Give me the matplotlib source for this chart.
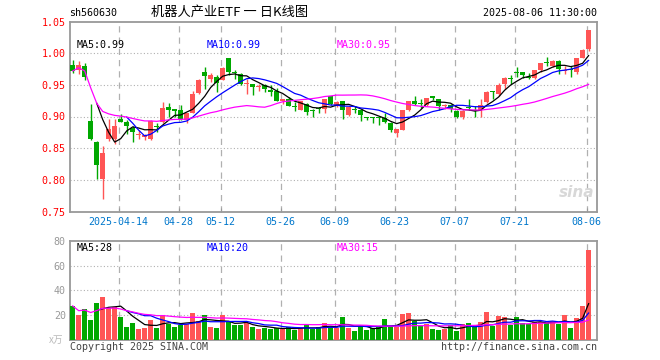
import numpy as np
import pandas as pd
import matplotlib
matplotlib.use("Agg")
import matplotlib.pyplot as plt

# ── data ────────────────────────────────────────────────────────────────────
holidays = ['2025-04-04', '2025-05-01', '2025-05-02', '2025-05-05', '2025-06-02']
dates = [d for d in pd.bdate_range('2025-04-01', '2025-08-06').strftime('%Y-%m-%d')
         if d not in holidays]

opens = [0.982, 0.973, 0.979, 0.893, 0.860, 0.801, 0.864, 0.864, 0.896, 0.892,
         0.882, 0.871, 0.868, 0.864, 0.884, 0.891, 0.915, 0.912, 0.910, 0.894,
         0.906, 0.937, 0.971, 0.960, 0.963, 0.958, 0.992, 0.971, 0.967, 0.951,
         0.952, 0.947, 0.950, 0.942, 0.940, 0.924, 0.928, 0.916, 0.911, 0.920,
         0.909, 0.913, 0.912, 0.933, 0.917, 0.924, 0.903, 0.911, 0.910, 0.899,
         0.898, 0.898, 0.898, 0.889, 0.874, 0.879, 0.911, 0.925, 0.920, 0.918,
         0.931, 0.927, 0.916, 0.918, 0.909, 0.900, 0.915, 0.909, 0.910, 0.923,
         0.940, 0.935, 0.951, 0.960, 0.970, 0.971, 0.962, 0.961, 0.973, 0.985,
         0.979, 0.988, 0.972, 0.975, 0.971, 0.993, 1.007]
highs = [0.989, 0.988, 0.985, 0.919, 0.861, 0.853, 0.896, 0.896, 0.904, 0.894,
         0.885, 0.879, 0.873, 0.894, 0.889, 0.923, 0.921, 0.912, 0.918, 0.906,
         0.941, 0.959, 0.978, 0.969, 0.965, 0.978, 0.992, 0.974, 0.968, 0.959,
         0.952, 0.952, 0.952, 0.949, 0.945, 0.928, 0.931, 0.923, 0.925, 0.921,
         0.912, 0.915, 0.927, 0.933, 0.924, 0.924, 0.916, 0.916, 0.910, 0.899,
         0.900, 0.900, 0.906, 0.891, 0.881, 0.911, 0.925, 0.932, 0.927, 0.930,
         0.931, 0.928, 0.920, 0.920, 0.910, 0.911, 0.927, 0.916, 0.927, 0.940,
         0.940, 0.953, 0.962, 0.966, 0.978, 0.971, 0.969, 0.974, 0.985, 0.994,
         0.989, 0.989, 0.980, 0.980, 0.993, 1.006, 1.036]
lows = [0.969, 0.967, 0.957, 0.863, 0.801, 0.770, 0.862, 0.857, 0.892, 0.873,
        0.859, 0.865, 0.863, 0.863, 0.876, 0.890, 0.899, 0.900, 0.894, 0.890,
        0.906, 0.936, 0.944, 0.954, 0.939, 0.957, 0.965, 0.959, 0.949, 0.936,
        0.934, 0.941, 0.939, 0.933, 0.924, 0.920, 0.916, 0.909, 0.910, 0.902,
        0.899, 0.906, 0.906, 0.918, 0.915, 0.896, 0.901, 0.906, 0.893, 0.894,
        0.889, 0.886, 0.890, 0.875, 0.868, 0.878, 0.909, 0.918, 0.913, 0.917,
        0.926, 0.910, 0.912, 0.907, 0.898, 0.896, 0.911, 0.899, 0.899, 0.921,
        0.927, 0.933, 0.943, 0.952, 0.962, 0.961, 0.959, 0.960, 0.971, 0.980,
        0.978, 0.967, 0.967, 0.963, 0.967, 0.992, 1.004]
closes = [0.972, 0.982, 0.962, 0.865, 0.824, 0.843, 0.881, 0.885, 0.892, 0.885,
          0.875, 0.872, 0.871, 0.893, 0.883, 0.913, 0.911, 0.909, 0.896, 0.906,
          0.935, 0.958, 0.964, 0.966, 0.953, 0.977, 0.971, 0.969, 0.952, 0.952,
          0.947, 0.948, 0.944, 0.939, 0.924, 0.927, 0.916, 0.915, 0.925, 0.907,
          0.908, 0.912, 0.927, 0.920, 0.923, 0.911, 0.915, 0.910, 0.902, 0.898,
          0.897, 0.897, 0.892, 0.878, 0.880, 0.910, 0.924, 0.919, 0.919, 0.929,
          0.930, 0.917, 0.917, 0.912, 0.900, 0.909, 0.914, 0.908, 0.918, 0.939,
          0.939, 0.950, 0.961, 0.959, 0.969, 0.966, 0.961, 0.973, 0.984, 0.984,
          0.988, 0.975, 0.973, 0.974, 0.993, 1.005, 1.036]
volumes = [27.3, 19.5, 24.9, 15.9, 30.0, 34.6, 25.4, 26.8, 18.6, 10.5,
           13.2, 8.6, 9.7, 15.9, 9.7, 20.0, 12.4, 10.5, 11.9, 12.4,
           21.6, 15.4, 20.0, 10.5, 9.7, 20.0, 14.0, 11.4, 11.4, 13.2,
           10.5, 8.9, 9.0, 8.4, 9.7, 8.6, 10.0, 7.6, 9.7, 11.4,
           8.6, 10.0, 13.2, 10.5, 9.3, 18.4, 9.2, 7.0, 10.8, 7.8,
           9.5, 10.0, 16.5, 10.8, 10.5, 20.5, 21.4, 15.0, 11.0, 12.4,
           8.4, 7.6, 8.4, 11.9, 7.3, 12.4, 13.8, 10.5, 14.0, 22.4,
           11.0, 18.9, 18.1, 11.9, 18.4, 13.2, 12.4, 14.0, 14.0, 13.8,
           15.0, 12.7, 19.7, 9.2, 17.3, 27.0, 72.4]

tick_dates = ['2025-04-14', '2025-04-28', '2025-05-12', '2025-05-26', '2025-06-09',
              '2025-06-23', '2025-07-07', '2025-07-21', '2025-08-06']
tick_labels = ['2025-04-14', '04-28', '05-12', '05-26', '06-09',
               '06-23', '07-07', '07-21', '08-06']
price_ticks = [0.75, 0.80, 0.85, 0.90, 0.95, 1.00, 1.05]
vol_ticks = [20, 40, 60, 80]

RED = '#ff5555'
GREEN = '#00a800'
GRID = '#b0b0b0'
FRAME = '#999999'
MONO = 'DejaVu Sans Mono'

W, H = 660, 360


def px(x, y):
    """pixel -> figure fraction"""
    return x / W, 1 - y / H


o = np.array(opens); h = np.array(highs); l = np.array(lows); c = np.array(closes)
v = np.array(volumes)
x = np.arange(len(dates))
colors = np.where(c > o, RED, GREEN)

cs = pd.Series(c)
ma5, ma10, ma30 = cs.rolling(5).mean(), cs.rolling(10).mean(), cs.rolling(30, min_periods=1).mean()
vs = pd.Series(v)
vma5, vma10, vma30 = vs.rolling(5).mean(), vs.rolling(10).mean(), vs.rolling(30, min_periods=1).mean()

tick_pos = [dates.index(d) - 0.35 for d in tick_dates]

fig = plt.figure(figsize=(6.6, 3.6), dpi=100)
fig.patch.set_facecolor('white')

# ── price panel ──────────────────────────────────────────────────────────────
ax = fig.add_axes([70 / W, 1 - 211.5 / H, 527 / W, 190 / H])
ax.vlines(x, l, h, color=colors, lw=1.0, zorder=3)
ax.bar(x, np.maximum(np.abs(c - o), 0.0017), bottom=np.minimum(o, c), width=0.8,
       color=colors, lw=0, zorder=3)
ax.plot(x, ma5, color='black', lw=0.9, zorder=4)
ax.plot(x, ma10, color='#0000ff', lw=0.9, zorder=4)
ax.plot(x, ma30, color='#ff00ff', lw=0.9, zorder=4)

ax.set_xlim(-0.45, 87.4)
ax.set_ylim(0.75, 1.05)
for yv in price_ticks[1:-1]:
    ax.axhline(yv, color=GRID, lw=0.8, ls=(0, (1, 2)), zorder=1)
for tp in tick_pos:
    ax.axvline(tp, color=GRID, lw=0.9, ls=(0, (5, 4)), zorder=1)
ax.set_yticks(price_ticks)
ax.set_yticklabels([f'{t:.2f}' for t in price_ticks], color='red',
                   fontsize=7.2, family=MONO)
ax.set_xticks(tick_pos)
ax.set_xticklabels(tick_labels, color='#0077cc', fontsize=7.2, family=MONO)
ax.tick_params(axis='y', length=0, pad=3)
ax.tick_params(axis='x', direction='in', length=3, color=FRAME, pad=4)
for s in ax.spines.values():
    s.set_color(FRAME)
    s.set_linewidth(1.3)

ax.text(0.6, 1.0125, 'MA5:0.99', color='black', fontsize=7.2, family=MONO,
        va='center', zorder=5)
ax.text(22.4, 1.0125, 'MA10:0.99', color='#0000ff', fontsize=7.2, family=MONO,
        va='center', zorder=5)
ax.text(44.0, 1.0125, 'MA30:0.95', color='#ff00ff', fontsize=7.2, family=MONO,
        va='center', zorder=5)
ax.text(86.9, 0.768, 'sina', color='#d8d8d8', fontsize=11, fontweight='bold',
        style='italic', ha='right', va='bottom', zorder=2)

# ── volume panel ─────────────────────────────────────────────────────────────
axv = fig.add_axes([70 / W, 1 - 339.5 / H, 527 / W, 98.5 / H])
axv.bar(x, v, width=0.8, color=colors, lw=0, zorder=3)
axv.plot(x, vma5, color='black', lw=0.9, zorder=4)
axv.plot(x, vma10, color='#0000ff', lw=0.9, zorder=4)
axv.plot(x, vma30, color='#ff00ff', lw=0.9, zorder=4)
axv.set_xlim(-0.45, 87.4)
axv.set_ylim(0, 80)
for yv in vol_ticks[:-1]:
    axv.axhline(yv, color=GRID, lw=0.8, ls=(0, (1, 2)), zorder=1)
for tp in tick_pos:
    axv.axvline(tp, color=GRID, lw=0.9, ls=(0, (5, 4)), zorder=1)
axv.set_yticks(vol_ticks)
axv.set_yticklabels([str(t) for t in vol_ticks], color='#999999',
                    fontsize=7.2, family=MONO)
axv.tick_params(axis='y', length=0, pad=3)
axv.set_xticks([])
for s in axv.spines.values():
    s.set_color(FRAME)
    s.set_linewidth(1.3)

axv.text(0.6, 74.5, 'MA5:28', color='black', fontsize=7.2, family=MONO, va='center')
axv.text(22.4, 74.5, 'MA10:20', color='#0000ff', fontsize=7.2, family=MONO, va='center')
axv.text(44.0, 74.5, 'MA30:15', color='#ff00ff', fontsize=7.2, family=MONO, va='center')

# ── header / footer texts ────────────────────────────────────────────────────
fig.text(*px(69, 12.5), 'sh560630', fontsize=7.2, family=MONO, va='center')
fig.text(*px(229.5, 12.5), '机器人产业ETF 一 日K线图', fontsize=9.5,
         family=['Noto Sans CJK SC', 'DejaVu Sans'], ha='center', va='center')
fig.text(*px(597, 12.5), '2025-08-06 11:30:00', fontsize=7.2, family=MONO,
         ha='right', va='center')
fig.text(*px(63, 340), 'x万', fontsize=7, color='#bbbbbb', style='italic',
         family=['Noto Sans CJK SC', 'DejaVu Sans'], ha='right', va='center')
fig.text(*px(70, 347), 'Copyright 2025 SINA.COM', fontsize=7.2, family=MONO,
         color='#444444', va='center')
fig.text(*px(597, 347), 'http://finance.sina.com.cn', fontsize=7.2, family=MONO,
         color='#444444', ha='right', va='center')

fig.savefig('out.png', dpi=100)
